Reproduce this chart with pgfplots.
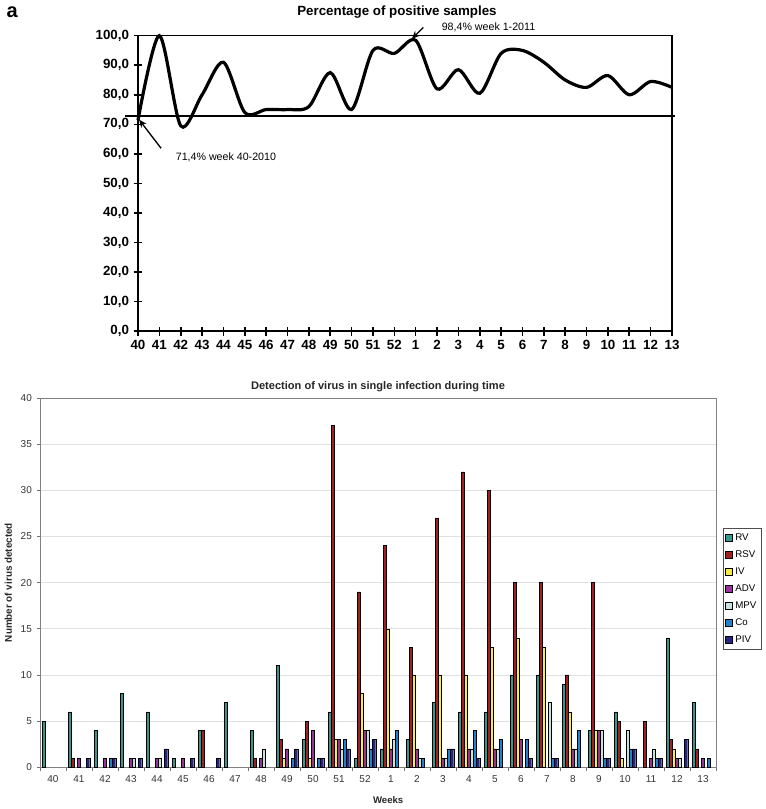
\documentclass[border=0pt]{standalone}
\usepackage{pgfplots}
\pgfplotsset{compat=1.18}
\usepackage{pgfplotstable}
\usepackage{fontspec}
\setmainfont{Liberation Sans}
\usetikzlibrary{arrows.meta}

\definecolor{cRV}{HTML}{33998F}
\definecolor{cRSV}{HTML}{A32020}
\definecolor{cIV}{HTML}{F7EC45}
\definecolor{cADV}{HTML}{993399}
\definecolor{cMPV}{HTML}{C8E2E2}
\definecolor{cCo}{HTML}{2282C8}
\definecolor{cPIV}{HTML}{26267E}

\pgfplotstableread{
idx RV RSV IV ADV MPV Co PIV
0  5  0  0  0 0 0 0
1  6  1  0  1 0 0 1
2  4  0  0  1 0 1 1
3  8  0  0  1 1 0 1
4  6  0  0  1 1 0 2
5  1  0  0  1 0 0 1
6  4  4  0  0 0 0 1
7  7  0  0  0 0 0 0
8  4  1  0  1 2 0 0
9  11 3  1  2 0 1 2
10 3  5  1  4 0 1 1
11 6  37 3  3 2 3 2
12 1  19 8  4 4 2 3
13 2  24 15 2 3 4 0
14 3  13 10 2 1 1 0
15 7  27 10 1 1 2 2
16 6  32 10 2 2 4 1
17 6  30 13 2 2 3 0
18 10 20 14 3 0 3 1
19 10 20 13 0 7 1 1
20 9  10 6  2 2 4 0
21 4  20 4  4 4 1 1
22 6  5  1  0 4 2 2
23 0  5  0  1 2 1 1
24 14 3  2  1 1 0 3
25 7  2  0  1 0 1 0
}\virus

\pgfplotsset{
  mybar/.style={fill=#1, draw=black, line width=0.3pt,
    legend image code/.code={\draw[fill=#1,draw=black,line width=0.3pt] (0pt,-2.6pt) rectangle (5.2pt,2.6pt);}}
}

\begin{document}
\begin{tikzpicture}
\path[use as bounding box] (0,0) rectangle (573.75pt,606.75pt);

% ---------------- top chart ----------------
\begin{axis}[
  at={(103.5pt,358.3pt)}, anchor=south west,
  scale only axis, width=400.5pt, height=221.7pt,
  xmin=0, xmax=25, ymin=0, ymax=100,
  axis line style={line width=1.2pt},
  xtick={0,...,25},
  xticklabels={40,41,42,43,44,45,46,47,48,49,50,51,52,1,2,3,4,5,6,7,8,9,10,11,12,13},
  ytick={0,10,...,100},
  tick pos=left, tick align=center, major tick length=6.5pt,
  tick style={line width=1.2pt, black},
  /pgf/number format/assume math mode=true,
  yticklabel style={/pgf/number format/.cd, fixed, fixed zerofill, precision=1, use comma},
  ticklabel style={font=\bfseries\fontsize{10}{12}\selectfont},
  clip=false,
]
\addplot[black, line width=2.4pt, smooth, tension=0.5] coordinates {
 (0,71.4) (1,100) (2,69.5) (3,80) (4,91) (5,74) (6,75) (7,75) (8,76) (9,87.5)
 (10,75) (11,95) (12,94) (13,98.4) (14,82) (15,88.5) (16,80.5) (17,94) (18,95)
 (19,91) (20,85) (21,82.5) (22,86.5) (23,80) (24,84.5) (25,82.5)};
\addplot[black, line width=1.2pt] coordinates {(-0.61,72.8) (25.14,72.8)};
\draw[-{Stealth[length=6pt,width=5pt]}, line width=1pt] (axis cs:1.08,61.9) -- (axis cs:0.05,71.6);
\node[anchor=west, font=\fontsize{8}{9}\selectfont] at (axis cs:1.55,58.8) {71,4\% week 40-2010};
\draw[-{Stealth[length=6pt,width=5pt]}, line width=1pt] (axis cs:13.36,102.8) -- (axis cs:12.82,98.9);
\node[anchor=west, font=\fontsize{8}{9}\selectfont] at (axis cs:14.0,102.8) {98,4\% week 1-2011};
\node[anchor=base, font=\bfseries\fontsize{10}{12}\selectfont] at (rel axis cs:0.485,1) [yshift=14.8pt] {Percentage of positive samples};
\node[anchor=base west, font=\bfseries\fontsize{15}{17}\selectfont] at (rel axis cs:-0.2547,1.06) {a};
\end{axis}

% ---------------- bottom chart ----------------
\begin{axis}[
  at={(30pt,31.3pt)}, anchor=south west,
  scale only axis, width=507pt, height=277pt,
  xmin=-0.5, xmax=25.5, ymin=0, ymax=40,
  ybar=0pt, bar width=2.3pt,
  restrict y to domain=0.5:100,
  axis line style={draw=black!50, line width=0.6pt},
  ytick={0,5,...,40},
  ymajorgrids, grid style={black!12, line width=0.5pt},
  xtick={-0.5,0.5,...,25.5},
  xticklabels={40,41,42,43,44,45,46,47,48,49,50,51,52,1,2,3,4,5,6,7,8,9,10,11,12,13,{}},
  xticklabel style={xshift=9.75pt},
  tick pos=left, tick align=outside, major tick length=2.6pt,
  tick style={black!55, line width=0.5pt},
  /pgf/number format/assume math mode=true,
  ticklabel style={font=\fontsize{7.5}{9}\selectfont, text=black!80},
  ylabel={Number of virus detected},
  ylabel style={at={(rel axis cs:-0.047,0.5)}, anchor=center, font=\bfseries\fontsize{7.4}{9}\selectfont, text=black!85},
  xlabel={Weeks},
  xlabel style={at={(rel axis cs:0.515,-0.088)}, anchor=center, font=\bfseries\fontsize{7.2}{9}\selectfont, text=black!85},
  legend style={at={(rel axis cs:1.0105,0.648)}, anchor=north west, draw=black!70, line width=0.4pt,
    font=\fontsize{7.3}{8}\selectfont, row sep=2.2pt, inner xsep=1.5pt, inner ysep=2pt, legend cell align=left},
  clip=false,
]
\addplot[mybar=cRV]  table[x=idx, y=RV]  {\virus};
\addplot[mybar=cRSV] table[x=idx, y=RSV] {\virus};
\addplot[mybar=cIV]  table[x=idx, y=IV]  {\virus};
\addplot[mybar=cADV] table[x=idx, y=ADV] {\virus};
\addplot[mybar=cMPV] table[x=idx, y=MPV] {\virus};
\addplot[mybar=cCo]  table[x=idx, y=Co]  {\virus};
\addplot[mybar=cPIV] table[x=idx, y=PIV] {\virus};
\legend{RV,RSV,IV,ADV,MPV,Co,PIV}
\node[anchor=center, font=\bfseries\fontsize{8.3}{10}\selectfont, text=black!85] at (rel axis cs:0.5,1) [yshift=8.3pt] {Detection of virus in single infection during time};
\end{axis}
\end{tikzpicture}
\end{document}
